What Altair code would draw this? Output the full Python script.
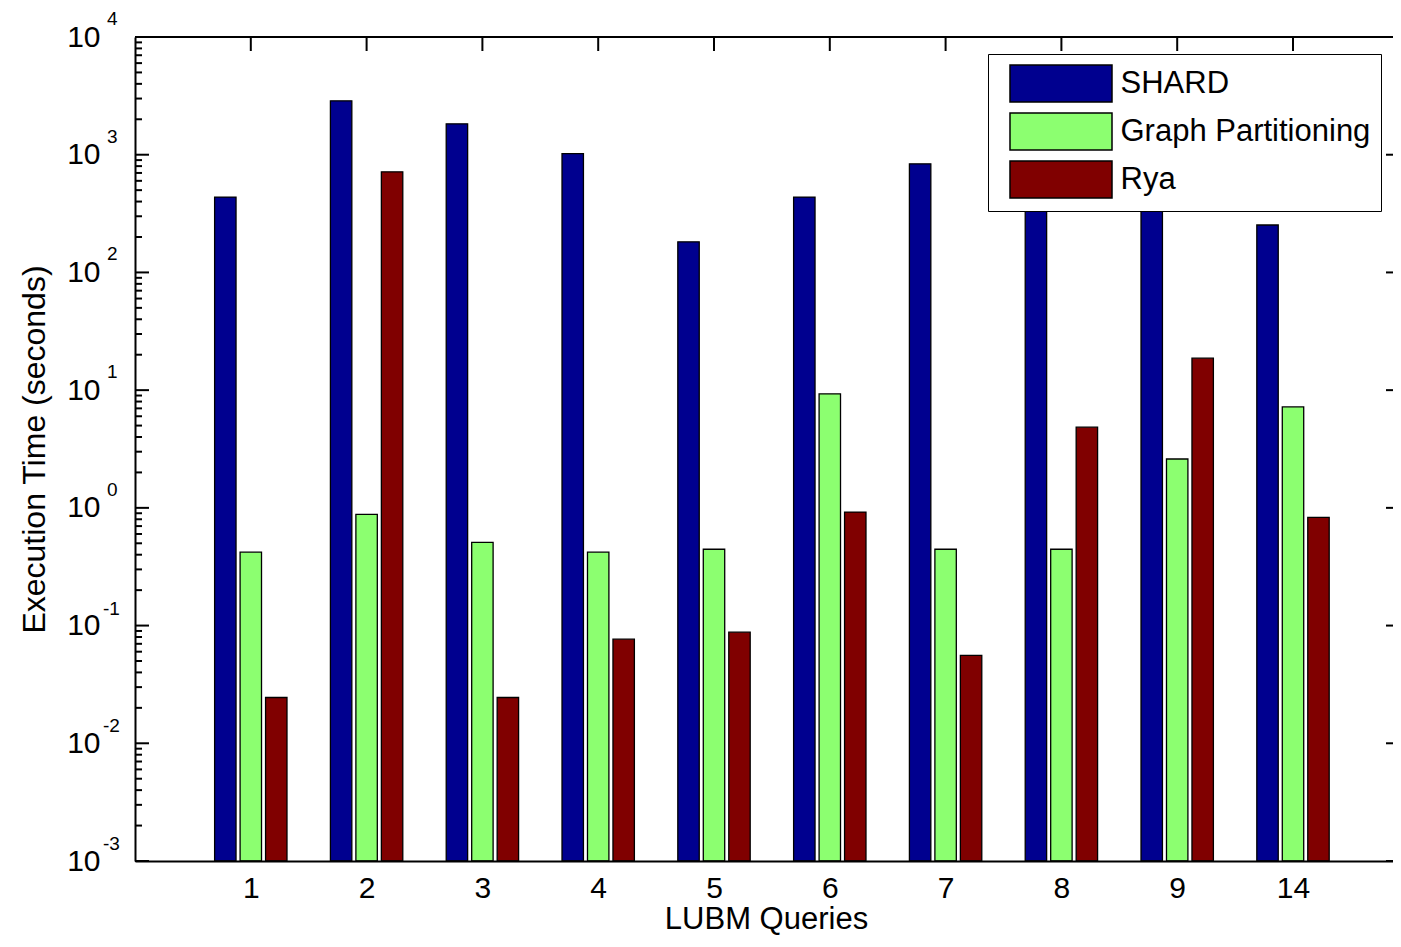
import altair as alt
import pandas as pd

queries = ["1", "2", "3", "4", "5", "6", "7", "8", "9", "14"]
series = ["SHARD", "Graph Partitioning", "Rya"]
shard = [437, 2870, 1830, 1020, 182, 437, 837, 1000, 1300, 253]
graph = [0.42, 0.88, 0.51, 0.42, 0.445, 9.3, 0.445, 0.445, 2.6, 7.2]
rya = [0.0245, 715, 0.0245, 0.0766, 0.0878, 0.92, 0.0558, 4.85, 18.7, 0.83]
colors = ["#00008F", "#8CFF70", "#800000"]
decades = [1e-3, 1e-2, 1e-1, 1, 10, 100, 1000, 10000]
exponents = ["-3", "-2", "-1", "0", "1", "2", "3", "4"]
minor_mult = [2, 3, 4, 5, 6, 7, 8, 9]

W, H = 1258, 824
XMAX = W / 115.8
offsets = [-0.22, 0.0, 0.22]
bw = 0.185
FONT = "Liberation Sans"

rows = []
for s, vals, off in zip(series, [shard, graph, rya], offsets):
    for i, v in enumerate(vals):
        p = i + 1
        rows.append({"series": s, "query": queries[i], "x": p + off - bw / 2,
                     "x2": p + off + bw / 2, "value": v, "base": 1e-3})
df = pd.DataFrame(rows)

pos_df = pd.DataFrame({"x": list(range(1, len(queries) + 1))})
major_df = pd.DataFrame({"value": decades, "e": exponents})
neg_df = major_df[major_df["e"].str.startswith("-")]
pos_exp_df = major_df[~major_df["e"].str.startswith("-")]
minor_df = pd.DataFrame({"value": [m * d for d in decades[:-1] for m in minor_mult]})

xscale = alt.Scale(domain=[0, XMAX], nice=False, zero=False)
yscale = alt.Scale(type="log", domain=[1e-3, 1e4], nice=False)

label_expr = "[" + ",".join("'%s'" % q for q in queries) + "][datum.value - 1]"

xaxis = alt.Axis(values=list(range(1, len(queries) + 1)), labelExpr=label_expr,
                 title="LUBM Queries", grid=False, ticks=True, tickSize=0,
                 labelPadding=36, labelBaseline="alphabetic", labelFontSize=30,
                 labelFont=FONT, labelFlush=False, labelOverlap=False,
                 domainColor="black", domainWidth=2, zindex=1,
                 titleX=631, titleY=67, titleBaseline="alphabetic", titleAlign="center",
                 titleFontSize=31, titleFont=FONT, titleFontWeight="normal", titleColor="black",
                 labelColor="black")
yaxis = alt.Axis(values=decades, labelExpr="'10'", title="Execution Time (seconds)",
                 grid=False, ticks=True, tickSize=0, labelPadding=35, labelAlign="right",
                 labelBaseline="middle", labelFontSize=30, labelFont=FONT,
                 labelFlush=False, labelOverlap=False, domainColor="black", domainWidth=2,
                 zindex=1, titleX=-101, titleY=H / 2, titleAngle=270, titleAlign="center",
                 titleBaseline="middle", titleFontSize=32, titleFont=FONT,
                 titleFontWeight="normal", titleColor="black", labelColor="black")

X = lambda f: alt.X(f, scale=xscale, axis=xaxis, title="LUBM Queries")
Y = lambda f: alt.Y(f, scale=yscale, axis=yaxis, title="Execution Time (seconds)")

bars = alt.Chart(df).mark_rect(stroke="black", strokeWidth=1.3).encode(
    x=X("x:Q"),
    x2="x2:Q",
    y=Y("value:Q"),
    y2="base:Q",
    color=alt.Color("series:N", scale=alt.Scale(domain=series, range=colors),
                    legend=alt.Legend(title=None, orient="none", legendX=853, legendY=17,
                                      direction="vertical",
                                      symbolType="M-2.757,-1H2.757V1H-2.757Z",
                                      symbolSize=1369, symbolOffset=43.5, labelOffset=40,
                                      symbolStrokeColor="black", symbolStrokeWidth=1.5,
                                      labelFontSize=31, labelFont=FONT, labelColor="black",
                                      labelLimit=0, padding=10, rowPadding=5,
                                      strokeColor="black", fillColor="white",
                                      cornerRadius=0)),
)

top_ticks = alt.Chart(pos_df).mark_rule(color="black", strokeWidth=2).encode(
    x=X("x:Q"), y=alt.value(0), y2=alt.value(14))

left_major = alt.Chart(major_df).mark_rule(color="black", strokeWidth=2).encode(
    y=Y("value:Q"), x=alt.value(0), x2=alt.value(14))
left_minor = alt.Chart(minor_df).mark_rule(color="black", strokeWidth=2).encode(
    y=Y("value:Q"), x=alt.value(0), x2=alt.value(7))
right_major = alt.Chart(major_df).mark_rule(color="black", strokeWidth=2).encode(
    y=Y("value:Q"), x=alt.value(W - 7), x2=alt.value(W))
top_border = alt.Chart(pos_df).mark_rule(color="black", strokeWidth=2).encode(
    x=alt.value(0), x2=alt.value(W), y=alt.value(0))
exps_neg = alt.Chart(neg_df).mark_text(align="left", baseline="middle", fontSize=19,
                                       font=FONT, color="black", dy=-17).encode(
    y=Y("value:Q"), x=alt.value(-32), text="e:N")
exps_pos = alt.Chart(pos_exp_df).mark_text(align="left", baseline="middle", fontSize=19,
                                           font=FONT, color="black", dy=-18).encode(
    y=Y("value:Q"), x=alt.value(-28), text="e:N")

chart = alt.layer(top_ticks, left_minor, left_major, right_major, bars, top_border,
                  exps_neg, exps_pos).properties(
    width=W, height=H,
    autosize=alt.AutoSizeParams(type="none"),
    padding={"left": 127, "top": 29, "right": 0, "bottom": 74},
    background="white",
).configure_view(stroke=None)

chart.save("out.html", embed_options={"renderer": "svg", "actions": False})
